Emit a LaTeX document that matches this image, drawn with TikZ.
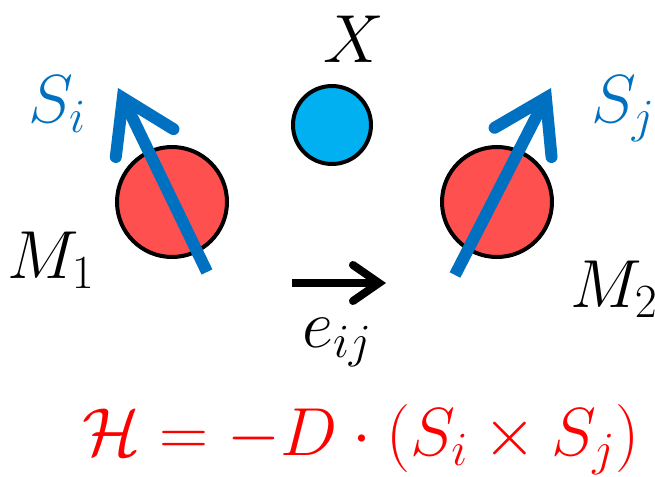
\documentclass[tikz,border=0pt]{standalone}
\usepackage{fix-cm}
\usepackage{amsmath}
\usetikzlibrary{arrows.meta}
\definecolor{metalred}{HTML}{FF5050}
\definecolor{ligandblue}{HTML}{00B0F0}
\definecolor{spinblue}{HTML}{0070C0}
\definecolor{dmired}{HTML}{FF0000}
\tikzset{
  metal/.style={circle, draw=black, line width=2pt, fill=metalred, minimum size=55pt, inner sep=0pt},
  ligand/.style={circle, draw=black, line width=2pt, fill=ligandblue, minimum size=39pt, inner sep=0pt},
  label/.style={inner sep=0pt, anchor=base, font=\fontsize{34}{40}\selectfont},
  spin/.style={-{Straight Barb[length=25pt, width=32pt, line cap=round]}, line width=6pt, draw=spinblue},
  bond/.style={-{Straight Barb[length=13pt, width=18pt, line cap=round]}, line width=4pt, draw=black}
}
\begin{document}
\begin{tikzpicture}[x=0.5pt, y=-0.5pt]
  \useasboundingbox (0,0) rectangle (655,477);
  % atoms
  \node[metal] (m1) at (172,202) {};
  \node[metal] (m2) at (497,202) {};
  \node[ligand] (x) at (332,125) {};

  % spins
  \coordinate (si0) at (207,272);
  \coordinate (si1) at (118,88);
  \coordinate (sj0) at (455,275);
  \coordinate (sj1) at (551,88);
  \draw[spin] (si0) -- (si1);
  \draw[spin] (sj0) -- (sj1);

  % bond vector
  \coordinate (e0) at (292,283);
  \coordinate (e1) at (386,283);
  \draw[bond] (e0) -- (e1);

  % labels
  \node[label] (xlab) at (354,62) {$X$};
  \node[label, text=spinblue] (silab) at (57,122) {$S_i$};
  \node[label, text=spinblue] (sjlab) at (623,122) {$S_j$};
  \node[label] (m1lab) at (51,278) {$M_1$};
  \node[label] (m2lab) at (614,307) {$M_2$};
  \node[label] (elab) at (337,347) {$e_{ij}$};
  \node[label, text=dmired] (ham) at (361,455) {$\mathcal{H} = -D\cdot(S_i\times S_j)$};
\end{tikzpicture}
\end{document}
